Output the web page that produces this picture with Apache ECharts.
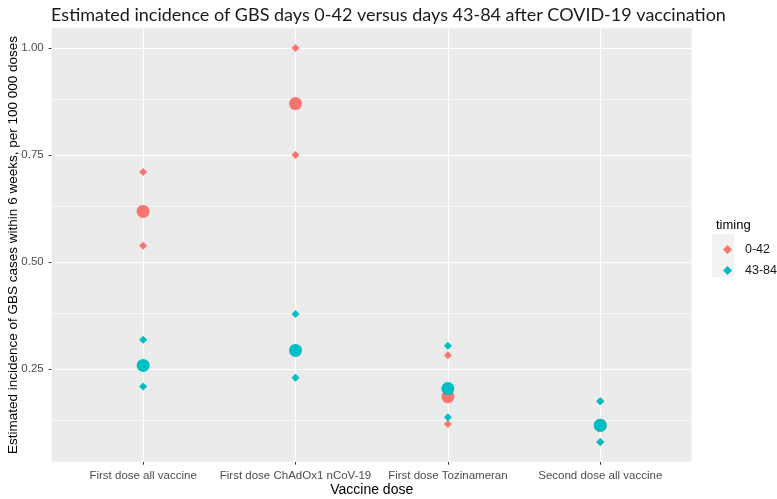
<!DOCTYPE html>
<html>
<head>
<meta charset="utf-8">
<script src="https://cdn.jsdelivr.net/npm/echarts@6/dist/echarts.min.js"></script>
<style>
  html, body { margin: 0; padding: 0; background: #fff; }
  #chart { width: 777px; height: 499px; }
</style>
</head>
<body>
<div id="chart"></div>
<script>
// vaccine dose categories (placed at x = 1..4)
const doses = ['First dose all vaccine', 'First dose ChAdOx1 nCoV-19', 'First dose Tozinameran', 'Second dose all vaccine']
const timings = ['0-42', '43-84']

// point estimates
const est_0_42 = [0.618, 0.870, 0.185, 0.118]
const est_43_84 = [0.258, 0.293, 0.204, 0.118]
// lower / upper bounds (diamonds)
const low_0_42 = [0.538, 0.750, 0.121, 0.079]
const up_0_42 = [0.710, 1.000, 0.282, 0.174]
const low_43_84 = [0.209, 0.229, 0.137, 0.079]
const up_43_84 = [0.318, 0.378, 0.304, 0.174]

const yTicks = [0.25, 0.5, 0.75, 1.0]
const yMinor = [0.125, 0.375, 0.625, 0.875]

const red = '#F8766D'
const teal = '#00BFC4'
const font = 'Liberation Sans'

function points(vals) {
  return vals.map((v, i) => [i + 1, v])
}
function bounds(lo, hi) {
  return points(lo).concat(points(hi))
}

const chart = echarts.init(document.getElementById('chart'), null, { renderer: 'canvas' })

const option = {
  animation: false,
  backgroundColor: '#ffffff',
  title: [
    {
      text: 'Estimated incidence of GBS days 0-42 versus days 43-84 after COVID-19 vaccination',
      left: 'center',
      top: 1,
      textStyle: { fontFamily: 'Lato', fontSize: 18, fontWeight: 'normal', color: '#1a1a1a' },
    },
    {
      text: 'timing',
      left: 711,
      top: 214,
      textStyle: { fontFamily: font, fontSize: 13, fontWeight: 'normal', color: '#000' },
    },
  ],
  graphic: [
    // legend key background
    { type: 'rect', shape: { x: 712, y: 234, width: 22, height: 43 }, style: { fill: '#F2F2F2' }, z: 0 },
  ],
  legend: {
    left: 718,
    top: 238,
    orient: 'vertical',
    itemWidth: 9,
    itemHeight: 9,
    itemGap: 8,
    selectedMode: false,
    textStyle: { fontFamily: font, fontSize: 12.5, color: '#1a1a1a', padding: [0, 0, 0, 8] },
    data: [
      { name: timings[0], icon: 'diamond', itemStyle: { color: red } },
      { name: timings[1], icon: 'diamond', itemStyle: { color: teal } },
    ],
  },
  grid: {
    left: 51.7,
    right: 85.3,
    top: 28.3,
    bottom: 37.3,
    outerBoundsMode: 'none',
    containLabel: false,
    show: true,
    backgroundColor: '#EBEBEB',
    borderWidth: 0,
  },
  xAxis: {
    type: 'value',
    min: 0.4,
    max: 4.6,
    name: 'Vaccine dose',
    nameLocation: 'middle',
    nameGap: 21,
    nameMoveOverlap: false,
    nameTextStyle: { fontFamily: font, fontSize: 14, color: '#000' },
    axisLine: { show: false },
    splitLine: { show: false },
    axisTick: { show: true, length: 3, customValues: [1, 2, 3, 4], lineStyle: { color: '#333', width: 1 } },
    axisLabel: {
      customValues: [1, 2, 3, 4],
      margin: 8,
      fontFamily: font,
      fontSize: 11.5,
      color: '#4D4D4D',
      formatter: (v) => doses[Math.round(v) - 1] || '',
    },
  },
  yAxis: {
    type: 'value',
    min: 0.033,
    max: 1.046,
    name: 'Estimated incidence of GBS cases within 6 weeks, per 100 000 doses',
    nameLocation: 'middle',
    nameGap: 31,
    nameRotate: 90,
    nameMoveOverlap: false,
    nameTextStyle: { fontFamily: font, fontSize: 13.5, color: '#000' },
    axisLine: { show: false },
    splitLine: { show: false },
    axisTick: { show: true, length: 3, customValues: yTicks, lineStyle: { color: '#333', width: 1 } },
    axisLabel: {
      customValues: yTicks,
      margin: 8,
      fontFamily: font,
      fontSize: 11.5,
      color: '#4D4D4D',
      formatter: (v) => v.toFixed(2),
    },
  },
  series: [
    {
      // panel grid lines
      type: 'scatter',
      name: 'grid',
      data: [],
      z: 1,
      silent: true,
      markLine: {
        silent: true,
        symbol: 'none',
        z: 1,
        label: { show: false },
        emphasis: { disabled: true },
        data: [
          ...yMinor.map((v) => ({ yAxis: v, lineStyle: { color: '#fff', width: 0.6, type: 'solid' } })),
          ...yTicks.map((v) => ({ yAxis: v, lineStyle: { color: '#fff', width: 1.2, type: 'solid' } })),
          ...doses.map((d, i) => ({ xAxis: i + 1, lineStyle: { color: '#fff', width: 1.2, type: 'solid' } })),
        ],
      },
    },
    {
      name: timings[0],
      type: 'scatter',
      symbol: 'diamond',
      symbolSize: 8,
      itemStyle: { color: red, opacity: 1 },
      data: bounds(low_0_42, up_0_42),
      z: 2,
    },
    {
      name: timings[1],
      type: 'scatter',
      symbol: 'diamond',
      symbolSize: 8,
      itemStyle: { color: teal, opacity: 1 },
      data: bounds(low_43_84, up_43_84),
      z: 3,
    },
    {
      name: timings[0],
      type: 'scatter',
      symbol: 'circle',
      symbolSize: 13,
      itemStyle: { color: red, opacity: 1 },
      data: points(est_0_42),
      z: 4,
    },
    {
      name: timings[1],
      type: 'scatter',
      symbol: 'circle',
      symbolSize: 13,
      itemStyle: { color: teal, opacity: 1 },
      data: points(est_43_84),
      z: 5,
    },
  ],
}

chart.setOption(option)
</script>
</body>
</html>
